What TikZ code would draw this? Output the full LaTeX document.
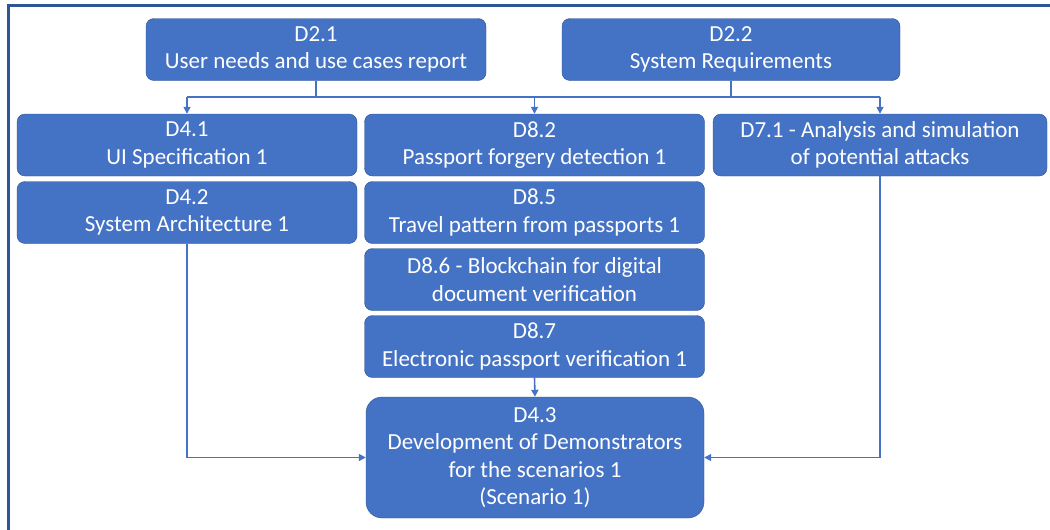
\documentclass[tikz,border=0pt]{standalone}
\usepackage{fontspec}
\setmainfont{Carlito}
\usetikzlibrary{arrows.meta}
\definecolor{boxblue}{HTML}{4472C4}
\definecolor{boxedge}{HTML}{2F528F}
\definecolor{framecol}{HTML}{2F5597}
\tikzstyle{deliv}=[rectangle,rounded corners=8pt,draw=boxedge,fill=boxblue,text=white,align=center,minimum width=340pt,minimum height=62pt,inner sep=0pt,font=\fontsize{23}{27.5}\selectfont]
\tikzstyle{demo}=[deliv,minimum width=338pt,minimum height=121pt,rounded corners=16pt]
\tikzstyle{link}=[draw=boxblue,line width=1.6pt]
\tikzstyle{feed}=[link,-{Triangle[length=7pt,width=7pt]}]

\begin{document}
\begin{tikzpicture}[x=1pt,y=-1pt]
			\useasboundingbox (0,0) rectangle (1050,530);
			\draw [framecol,line width=3pt] (8.5,530) -- (8.5,5.5) -- (1050,5.5);
			% work packages
			\node (d21) at (316,49.5) [deliv] {D2.1\\User needs and use cases report};
			\node (d22) at (731,49.5) [deliv,minimum width=338pt] {D2.2\\System Requirements};
			\node (d41) at (187,145) [deliv] {D4.1\\UI Specification 1};
			\node (d42) at (187,212.5) [deliv] {D4.2\\System Architecture 1};
			\node (d82) at (534.5,145) [deliv] {D8.2\\Passport forgery detection 1};
			\node (d85) at (534.5,212.5) [deliv] {D8.5\\Travel pattern from passports 1};
			\node (d86) at (534.5,279.5) [deliv] {D8.6 - Blockchain for digital\\document verification};
			\node (d87) at (534.5,346.5) [deliv] {D8.7\\Electronic passport verification 1};
			\node (d71) at (880,145) [deliv,minimum width=334pt] {D7.1 - Analysis and simulation\\of potential attacks};
			\node (d43) at (535,457.5) [demo] {D4.3\\Development of Demonstrators\\for the scenarios 1\\(Scenario 1)};
			\coordinate (bus) at (0,97);
			% links
			\draw [link] (d21.south) -- (d21.south |- bus);
			\draw [link] (d22.south) -- (d22.south |- bus);
			\draw [link] (d41.north |- bus) -- (d71.north |- bus);
			\draw [feed] (d41.north |- bus) -- (d41.north);
			\draw [feed] (d82.north |- bus) -- (d82.north);
			\draw [feed] (d71.north |- bus) -- (d71.north);
			\draw [feed] (d87.south) -- (d43.north);
			\draw [feed] (d42.south) |- (d43.west);
			\draw [feed] (d71.south) |- (d43.east);
		\end{tikzpicture}
\end{document}
